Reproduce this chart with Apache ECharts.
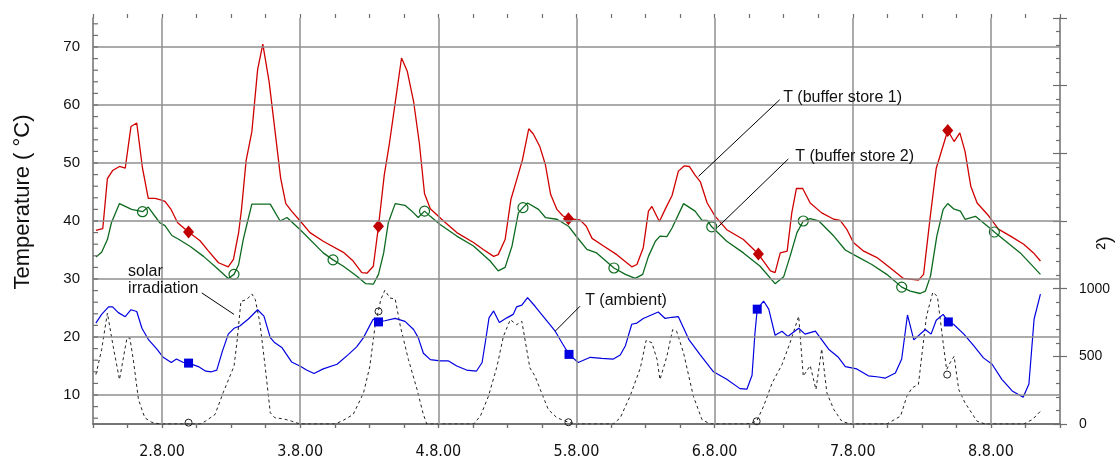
<!DOCTYPE html>
<html><head><meta charset="utf-8">
<script src="https://cdn.jsdelivr.net/npm/echarts@6/dist/echarts.min.js"></script>
<style>html,body{margin:0;padding:0;background:#fff}#c{width:1120px;height:463px}</style>
</head><body><div id="c"></div>
<script>
// time in hours since 1.8.00 00:00
const bufferStore1 = [[12.5,38.4],[13.7,38.7],[14.5,47.3],[15.4,48.7],[16.6,49.4],[17.6,49.1],[18.6,56.3],[19.6,56.9],[20.6,49.1],[21.6,43.9],[22.8,43.9],[23.6,43.7],[24.5,43.4],[25.5,42.1],[26.7,39.7],[28.6,38.1],[30.6,36.6],[32.0,34.9],[33.8,32.8],[35.5,32.1],[36.4,33.4],[37.3,38.0],[37.8,42.0],[38.6,50.4],[39.6,55.4],[40.6,66.1],[41.5,70.5],[42.6,64.0],[43.6,55.7],[44.6,47.4],[45.5,43.0],[46.5,41.7],[48.0,40.0],[49.7,38.0],[52.0,36.5],[55.5,34.6],[57.2,33.1],[58.7,31.1],[59.6,31.0],[60.7,32.2],[61.6,39.1],[62.6,47.9],[63.5,53.4],[64.7,61.8],[65.6,68.1],[66.6,65.8],[67.7,60.6],[68.7,53.4],[69.6,44.7],[70.6,42.1],[72.9,40.0],[75.2,38.0],[78.1,36.3],[79.8,35.1],[81.6,33.9],[82.4,34.2],[83.6,36.8],[84.6,43.7],[85.6,47.1],[86.6,50.5],[87.7,55.9],[88.5,55.0],[89.6,52.9],[90.6,49.7],[91.5,44.6],[92.6,42.0],[93.6,40.9],[94.6,40.4],[96.6,40.2],[97.7,39.1],[98.7,37.0],[100.7,35.7],[103.0,34.2],[105.6,32.1],[106.5,32.5],[107.6,35.4],[108.5,41.7],[109.1,42.5],[110.4,39.9],[111.4,42.0],[112.6,44.4],[113.7,48.6],[114.7,49.5],[115.6,49.4],[116.6,47.9],[117.5,46.8],[118.7,43.1],[120.1,40.8],[122.1,38.5],[125.0,36.8],[127.6,34.3],[129.7,31.4],[130.5,31.1],[131.4,34.5],[132.6,34.8],[133.4,41.4],[134.2,45.6],[135.3,45.6],[136.6,43.1],[138.6,41.4],[140.7,40.3],[141.8,40.1],[143.0,38.5],[144.1,36.3],[145.9,34.8],[148.2,33.7],[150.8,31.7],[152.8,30.1],[155.4,29.8],[156.3,30.8],[157.5,41.1],[158.5,49.1],[160.5,55.6],[161.6,53.7],[162.6,55.2],[163.5,52.0],[164.5,46.0],[165.6,43.1],[167.6,40.9],[169.3,38.6],[171.4,37.4],[173.7,36.0],[175.4,34.5],[176.6,33.1]];
const bufferStore2 = [[12.5,33.8],[13.5,34.6],[14.5,36.8],[15.2,39.7],[16.6,43.0],[18.7,42.0],[20.6,41.6],[21.6,42.4],[23.6,39.7],[24.5,39.2],[25.7,37.5],[26.8,36.9],[28.9,35.6],[31.2,33.9],[33.5,31.9],[35.5,30.1],[36.5,30.8],[37.3,32.5],[38.1,36.8],[38.8,39.7],[39.6,42.9],[42.8,42.9],[44.5,40.0],[45.7,40.6],[48.0,38.5],[52.0,34.5],[53.7,33.3],[55.5,32.2],[57.8,30.5],[59.4,29.2],[60.7,29.1],[61.6,30.8],[62.5,34.5],[63.3,39.7],[64.5,43.0],[66.2,42.7],[67.4,41.7],[68.5,40.6],[69.6,41.7],[70.6,40.8],[72.3,39.4],[75.2,37.4],[78.1,35.7],[81.0,33.1],[82.4,31.4],[83.6,32.0],[84.8,35.7],[85.9,41.4],[86.7,42.3],[87.5,43.1],[89.4,42.0],[90.6,40.6],[92.6,40.3],[94.6,39.1],[96.1,37.2],[97.8,35.1],[99.5,34.5],[102.5,31.9],[104.5,30.8],[106.2,30.1],[107.5,30.8],[108.5,33.9],[109.7,36.5],[110.5,37.4],[111.7,37.3],[112.6,38.8],[114.6,43.0],[116.6,41.7],[117.8,40.1],[118.7,40.1],[119.5,39.0],[122.1,36.5],[125.0,34.5],[127.9,32.2],[130.5,29.2],[132.0,30.4],[133.1,33.9],[134.3,38.0],[135.4,40.0],[136.6,40.4],[138.1,40.0],[140.7,37.4],[142.7,35.0],[144.7,33.9],[147.3,32.5],[149.9,30.8],[152.5,28.6],[154.0,27.9],[155.7,27.5],[156.6,27.9],[157.5,30.5],[158.6,37.4],[159.7,42.0],[160.5,43.0],[161.5,42.1],[162.7,41.7],[163.5,40.3],[165.3,40.8],[167.9,38.7],[168.6,38.1],[170.2,36.8],[173.1,34.5],[176.6,30.8]];
const ambient = [[12.5,22.4],[13.5,23.9],[14.7,25.2],[15.4,25.2],[16.4,24.2],[17.6,23.5],[18.6,24.7],[19.6,24.4],[20.5,21.5],[21.6,19.6],[23.1,17.9],[24.2,16.5],[25.6,15.6],[26.5,16.2],[27.7,15.6],[28.6,15.5],[30.3,14.9],[31.6,14.1],[32.6,14.0],[33.5,14.3],[34.5,17.6],[35.5,20.5],[36.5,21.5],[37.5,21.9],[39.0,23.1],[40.6,24.7],[41.7,23.6],[42.8,19.9],[43.6,19.0],[44.8,18.2],[46.5,15.7],[48.1,14.9],[49.1,14.3],[50.4,13.7],[52.0,14.5],[54.4,15.3],[56.4,17.0],[57.8,18.3],[59.0,19.9],[60.1,22.0],[60.7,23.1],[61.6,22.6],[62.7,22.8],[64.5,23.2],[66.2,22.7],[67.7,21.3],[68.5,19.9],[69.4,17.2],[70.6,16.1],[72.3,15.9],[73.7,15.9],[75.2,15.0],[76.9,14.3],[78.6,14.1],[79.6,15.6],[80.3,20.0],[80.8,23.3],[81.6,24.5],[82.6,22.5],[83.9,23.3],[85.0,23.9],[85.6,25.2],[86.5,25.5],[87.5,26.8],[88.8,25.3],[90.6,23.1],[92.3,21.0],[93.6,18.8],[94.7,17.0],[96.3,15.6],[98.4,16.5],[100.4,16.3],[102.4,16.2],[103.6,16.9],[104.5,18.5],[105.6,22.2],[106.5,22.4],[107.6,23.2],[110.2,24.3],[111.4,23.2],[112.6,23.4],[113.7,23.5],[115.5,19.6],[117.5,16.9],[119.8,14.0],[122.1,12.7],[124.4,11.1],[125.6,11.0],[126.5,13.4],[127.0,20.6],[127.4,24.8],[128.5,26.2],[129.4,24.8],[130.5,20.3],[131.7,21.0],[132.7,20.1],[134.6,21.5],[135.7,20.5],[137.5,21.0],[139.8,17.9],[141.5,16.5],[142.7,14.9],[144.7,14.5],[146.7,13.3],[148.5,13.1],[149.6,12.9],[151.4,13.8],[152.5,16.2],[153.5,23.8],[154.6,19.5],[156.6,21.3],[157.6,20.5],[158.5,22.9],[159.7,23.9],[160.6,22.6],[161.5,22.2],[163.3,20.5],[165.0,18.5],[166.7,16.4],[168.2,15.3],[169.9,12.7],[171.7,10.7],[173.6,9.6],[174.6,11.9],[175.5,23.1],[176.6,27.4]];
const solarIrradiation = [[12.5,365],[13.5,550],[14.5,820],[15.5,574],[16.6,328],[17.9,636],[18.4,636],[19.0,476],[19.9,181],[21.0,46],[22.2,13],[23.6,0],[30.6,0],[31.5,20],[33.2,70],[34.6,230],[36.5,427],[37.0,600],[37.7,906],[38.7,919],[39.6,961],[40.2,919],[41.0,747],[41.9,427],[42.8,83],[43.6,46],[45.1,38],[46.5,21],[48.0,0],[54.1,0],[55.5,28],[57.2,70],[59.0,230],[60.1,427],[61.0,722],[62.0,919],[62.7,988],[63.6,931],[64.5,924],[65.4,722],[66.8,476],[68.3,255],[69.4,70],[70.0,0],[78.1,0],[79.3,58],[80.7,205],[82.2,427],[83.3,648],[84.5,771],[85.6,734],[86.5,759],[87.9,415],[88.8,353],[89.7,255],[91.1,107],[92.6,46],[94.6,13],[96.0,0],[102.4,0],[103.6,46],[105.3,205],[107.1,415],[108.1,618],[109.1,600],[110.0,476],[110.5,328],[111.7,500],[112.7,697],[113.4,685],[114.6,525],[116.3,205],[117.8,33],[119.2,0],[125.6,0],[127.3,20],[128.5,131],[130.0,304],[131.7,439],[133.1,600],[134.6,796],[135.4,353],[136.6,432],[137.6,255],[138.6,555],[139.5,230],[140.7,107],[142.1,20],[143.6,0],[149.9,0],[152.3,58],[153.4,205],[154.3,267],[155.4,292],[156.8,796],[157.9,973],[158.7,943],[159.7,600],[160.3,402],[160.9,452],[161.6,500],[162.4,255],[163.5,156],[165.6,20],[167.0,0],[173.7,0],[175.2,33],[176.6,94]];

const store1Markers = [[28.6,38.1],[61.6,39.1],[94.6,40.4],[127.6,34.3],[160.5,55.6]];
const store2Markers = [[20.6,41.6],[36.5,30.8],[53.7,33.3],[69.6,41.7],[86.7,42.3],[102.5,31.9],[119.5,39.0],[135.4,40.0],[152.5,28.6],[168.6,38.1]];
const ambientMarkers = [[28.6,15.5],[61.6,22.6],[94.7,17.0],[127.4,24.8],[160.6,22.6]];
const solarMarkers = [[28.6,10],[61.6,832],[94.6,13],[127.3,20],[160.4,365]];

const dayTicks = [24,48,72,96,120,144,168];
const tempGridValues = [10,20,30,40,50,60,70];
const tempLabelValues = [10,20,30,40,50,60,70];
const tempTickValues = [6,8,10,12,14,16,18,20,22,24,26,28,30,32,34,36,38,40,42,44,46,48,50,52,54,56,58,60,62,64,66,68,70,72,74];
const solarLabelMax = 1000;
const X_MIN = 12, X_MAX = 180;

const FONT = 'Liberation Sans, Arial, sans-serif';
const AX = '#6e6e6e';
const chart = echarts.init(document.getElementById('c'), null, {renderer:'canvas'});

const dayLabel = v => (v % 24 === 0) ? (v / 24 + 1) + '.8.00' : '';

chart.setOption({
  animation: false,
  backgroundColor: '#fff',
  grid: {left: 93, right: 60, top: 18, bottom: 39, containLabel: false},
  xAxis: [
    {type:'value', min:X_MIN, max:X_MAX, interval:6, position:'bottom',
     axisLine:{show:true, lineStyle:{color:AX, width:1.5}},
     axisTick:{show:true, inside:false, length:4, lineStyle:{color:AX, width:1.2}},
     axisLabel:{formatter: dayLabel, fontFamily:'Liberation Sans Narrow, DejaVu Sans Condensed, Liberation Sans, sans-serif', fontSize:16, color:'#111', margin:20},
     splitLine:{show:false}},
    {type:'value', min:X_MIN, max:X_MAX, interval:6, position:'top',
     axisLine:{show:true, lineStyle:{color:AX, width:1.5}},
     axisTick:{show:true, inside:true, length:4, lineStyle:{color:AX, width:1.2}},
     axisLabel:{show:false}, splitLine:{show:false}},
    {type:'value', min:X_MIN, max:X_MAX, interval:6, position:'top',
     axisLine:{show:false},
     axisTick:{show:true, inside:false, length:4, lineStyle:{color:AX, width:1.2}},
     axisLabel:{show:false}, splitLine:{show:false}}
  ],
  yAxis: [
    {type:'value', min:5, max:75, position:'left',
     axisLine:{show:true, lineStyle:{color:AX, width:1.5}},
     axisTick:{show:false},
     axisLabel:{customValues: tempLabelValues, fontFamily:FONT, fontSize:15, color:'#111', margin:13},
     splitLine:{show:false}},
    {type:'value', min:0, max:3000, interval:500, position:'right',
     axisLine:{show:true, lineStyle:{color:AX, width:1.5}},
     axisTick:{show:true, inside:false, length:7, lineStyle:{color:AX, width:1.2}},
     axisLabel:{formatter: v => v <= solarLabelMax ? String(v) : '', fontFamily:FONT, fontSize:14, color:'#111', margin:19},
     splitLine:{show:false}},
    {type:'value', min:0, max:3000, interval:500, position:'right',
     axisLine:{show:false},
     axisTick:{show:true, inside:true, length:7, lineStyle:{color:AX, width:1.2}},
     minorTick:{show:true, splitNumber:5, length:4, lineStyle:{color:AX, width:1.2}},
     axisLabel:{show:false}, splitLine:{show:false}}
  ],
  series: [
    {type:'line', name:'grid', xAxisIndex:0, yAxisIndex:0, data:[], z:1, silent:true,
     markLine:{silent:true, symbol:'none', label:{show:false}, animation:false,
       lineStyle:{color:'#8f8f8f', width:1.5, type:'solid'},
       data: tempGridValues.map(v => ({yAxis:v})).concat(dayTicks.map(v => ({xAxis:v})))}},
    {type:'custom', name:'left ticks', xAxisIndex:0, yAxisIndex:0, silent:true, z:5,
     data: tempTickValues.map(v => [X_MIN, v]),
     renderItem: (params, api) => {
       const p = api.coord([api.value(0), api.value(1)]);
       return {type:'line', shape:{x1:p[0], y1:p[1], x2:p[0]+5, y2:p[1]}, style:{stroke:AX, lineWidth:1.2}};
     }},
    {type:'line', name:'T (buffer store 1)', xAxisIndex:0, yAxisIndex:0, data:bufferStore1, showSymbol:false, z:3,
     lineStyle:{color:'#d00000', width:1.3}},
    {type:'line', name:'T (buffer store 2)', xAxisIndex:0, yAxisIndex:0, data:bufferStore2, showSymbol:false, z:3,
     lineStyle:{color:'#0c6a1e', width:1.3}},
    {type:'line', name:'T (ambient)', xAxisIndex:0, yAxisIndex:0, data:ambient, showSymbol:false, z:3,
     lineStyle:{color:'#0000e0', width:1.2}},
    {type:'line', name:'solar irradiation', xAxisIndex:0, yAxisIndex:1, data:solarIrradiation, showSymbol:false, z:2,
     lineStyle:{color:'#222', width:1, type:[3,3]}},
    {type:'scatter', xAxisIndex:0, yAxisIndex:0, data:store1Markers, symbol:'diamond', symbolSize:[11,13], z:4,
     itemStyle:{color:'#c00000', opacity:1}},
    {type:'scatter', xAxisIndex:0, yAxisIndex:0, data:store2Markers, symbol:'circle', symbolSize:10, z:4,
     itemStyle:{color:'rgba(0,0,0,0)', borderColor:'#0c6a1e', borderWidth:1.2, opacity:1}},
    {type:'scatter', xAxisIndex:0, yAxisIndex:0, data:ambientMarkers, symbol:'rect', symbolSize:9, z:4,
     itemStyle:{color:'#0000e0', opacity:1}},
    {type:'scatter', xAxisIndex:0, yAxisIndex:1, data:solarMarkers, symbol:'circle', symbolSize:7, z:4,
     itemStyle:{color:'rgba(0,0,0,0)', borderColor:'#222', borderWidth:1, opacity:1}}
  ]
});

// annotation anchors (data coordinates: hours, temperature)
const annotations = [
  {text:'T (buffer store 1)', at:[131.9,61.2], from:[131.3,60.9], to:[117.2,47.7], va:'middle'},
  {text:'T (buffer store 2)', at:[134.0,51.1], from:[132.8,50.7], to:[120.5,38.9], va:'middle'},
  {text:'T (ambient)', at:[97.5,26.2], from:[96.6,25.3], to:[92.3,21.0], va:'middle'},
  {text:'solar\nirradiation', at:[18.1,32.7], from:[30.9,27.6], to:[36.5,23.9], va:'top'}
];
const px = p => chart.convertToPixel({xAxisIndex:0, yAxisIndex:0}, p);
const graphics = [];
annotations.forEach(a => {
  const f = px(a.from), t = px(a.to), p = px(a.at);
  graphics.push({type:'line', shape:{x1:f[0], y1:f[1], x2:t[0], y2:t[1]}, style:{stroke:'#000', lineWidth:1}, z:10});
  graphics.push({type:'text', x:p[0], y:p[1], z:10,
    style:{text:a.text, fontFamily:FONT, fontSize:16, fill:'#111', align:'left', verticalAlign:a.va, lineHeight:17}});
});
graphics.push({type:'text', x:23, y:202, rotation:Math.PI/2, z:10,
  style:{text:'Temperature ( °C)', fontFamily:FONT, fontSize:22, fill:'#111', align:'center', verticalAlign:'middle'}});
graphics.push({type:'text', x:1105, y:243, rotation:Math.PI/2, z:10,
  style:{text:'²)', fontFamily:FONT, fontSize:20, fill:'#111', align:'center', verticalAlign:'middle'}});
chart.setOption({graphic: graphics});
</script>
</body></html>
